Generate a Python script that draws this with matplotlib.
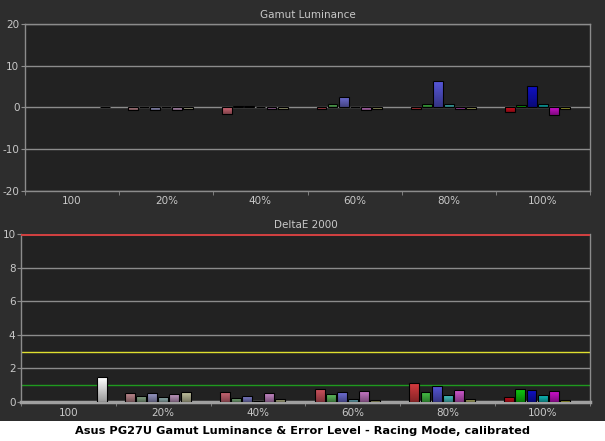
import numpy as np
import matplotlib
matplotlib.use("Agg")
import matplotlib.pyplot as plt
from matplotlib.colors import to_rgb

plt.rcParams["axes.unicode_minus"] = False

# Datos
groups = ["100", "20%", "40%", "60%", "80%", "100%"]

white_lum = 0.0
white_de = 1.47

lum_20 = [-0.65, 0.1, -0.65, 0.1, -0.6, -0.3]
lum_40 = [-1.5, 0.25, 0.25, 0.05, -0.5, -0.3]
lum_60 = [-0.3, 0.7, 2.5, 0.2, -0.7, -0.3]
lum_80 = [-0.3, 0.8, 6.3, 0.8, -0.5, -0.3]
lum_100 = [-1.0, 0.6, 5.2, 0.9, -1.75, -0.3]

de_20 = [0.52, 0.38, 0.52, 0.32, 0.46, 0.58]
de_40 = [0.61, 0.26, 0.34, 0.05, 0.52, 0.20]
de_60 = [0.79, 0.46, 0.58, 0.20, 0.64, 0.14]
de_80 = [1.15, 0.61, 0.97, 0.41, 0.70, 0.20]
de_100 = [0.32, 0.79, 0.70, 0.41, 0.64, 0.14]

# colores R, G, B, C, M, Y por saturación
col_20 = ["#c08a90", "#8fb08f", "#9a9ac8", "#9fbfbf", "#c49ac4", "#c4c4a0"]
col_40 = ["#d26a78", "#7fb47f", "#7f7fcc", "#8ac4c4", "#c888c8", "#c0c090"]
col_60 = ["#d45560", "#60c060", "#7070d8", "#70b8c8", "#c878c8", "#b8b878"]
col_80 = ["#dc3c40", "#48c848", "#5858dc", "#48c8c8", "#d058d0", "#c0c070"]
col_100 = ["#d81020", "#10d010", "#1010c8", "#10c0c0", "#d010d0", "#c8c840"]
white_col = "#ffffff"

lum_sets = [lum_20, lum_40, lum_60, lum_80, lum_100]
de_sets = [de_20, de_40, de_60, de_80, de_100]
col_sets = [col_20, col_40, col_60, col_80, col_100]

fig_bg = "#2d2d2d"
ax_bg = "#222222"
grid_c = "#8c8c8c"
text_c = "#c8c8c8"

fig = plt.figure(figsize=(6.05, 4.41), dpi=100, facecolor=fig_bg)
ax1 = fig.add_axes([0.0413, 0.5676, 0.934, 0.378])
ax2 = fig.add_axes([0.0347, 0.0884, 0.9405, 0.381])

offset = 0.148
step = 0.1175
width = 0.105


def gradient_bars(ax, xs, vals, colors):
    bars = ax.bar(xs, vals, width=width, color=colors, edgecolor="black",
                  linewidth=0.8, zorder=3)
    for b, c in zip(bars, colors):
        x0 = b.get_x()
        y0 = b.get_y()
        h = b.get_height()
        rgb = np.array(to_rgb(c))
        top = rgb
        bot = rgb * 0.6
        if h < 0:
            y_lo, y_hi = y0 + h, y0
        else:
            y_lo, y_hi = y0, y0 + h
        t = np.linspace(0, 1, 32)[:, None]
        img = (top[None, :] * (1 - t) + bot[None, :] * t)[:, None, :]
        im = ax.imshow(img, extent=(x0, x0 + width, y_lo, y_hi), aspect="auto",
                       origin="upper", zorder=3.5, interpolation="bilinear")
        im.set_clip_path(b)
        b.set_facecolor("none")
        b.set_zorder(4)


def draw_panel(ax, white_val, sets):
    xs = []
    vals = []
    cols = []
    xs.append(0 + offset + 6 * step)
    vals.append(white_val)
    cols.append(white_col)
    for g, (v, c) in enumerate(zip(sets, col_sets), start=1):
        for k in range(6):
            xs.append(g + offset + k * step)
            vals.append(v[k])
            cols.append(c[k])
    gradient_bars(ax, xs, vals, cols)


def style(ax, title):
    ax.set_facecolor(ax_bg)
    ax.set_xlim(0, 6)
    ax.set_xticks(np.arange(6) + 0.5)
    ax.set_xticklabels(groups)
    ax.set_xticks(np.arange(7), minor=True)
    ax.tick_params(axis="x", which="major", length=0, colors=text_c,
                   labelsize=7.5, pad=4)
    ax.tick_params(axis="x", which="minor", length=3, color=grid_c,
                   direction="out")
    ax.tick_params(axis="y", length=3, color=grid_c, colors=text_c,
                   labelsize=7.5, pad=1)
    ax.grid(axis="y", color=grid_c, linewidth=1.0, zorder=1)
    ax.set_axisbelow(True)
    for s in ["left", "right", "bottom", "top"]:
        ax.spines[s].set_color(grid_c)
        ax.spines[s].set_linewidth(1.0)
    ax.set_title(title, color=text_c, fontsize=7.5, pad=4)


# Panel superior
draw_panel(ax1, white_lum, lum_sets)
style(ax1, "Gamut Luminance")
ax1.set_ylim(-20, 20)
ax1.set_yticks([-20, -10, 0, 10, 20])

# Panel inferior
draw_panel(ax2, white_de, de_sets)
style(ax2, "DeltaE 2000")
ax2.set_ylim(0, 10)
ax2.set_yticks([0, 2, 4, 6, 8, 10])
ax2.axhline(10, color="#d04040", linewidth=2.2, zorder=5)
ax2.axhline(3, color="#e0e030", linewidth=1.0, zorder=2)
ax2.axhline(1, color="#1f9a1f", linewidth=1.0, zorder=2)
ax2.spines["bottom"].set_linewidth(2.5)
ax2.spines["bottom"].set_color("#a0a0a0")
ax2.spines["top"].set_visible(False)

# Banda blanca con el pie
fig.patches.append(plt.Rectangle((0, 0), 1, 20 / 441, transform=fig.transFigure,
                                 facecolor="white", edgecolor="none", zorder=0))
fig.text(0.5, 10 / 441, "Asus PG27U Gamut Luminance & Error Level - Racing Mode, calibrated",
         ha="center", va="center", fontsize=8.2, fontweight="bold", color="black")

fig.savefig("out.png", dpi=100, facecolor=fig_bg)
